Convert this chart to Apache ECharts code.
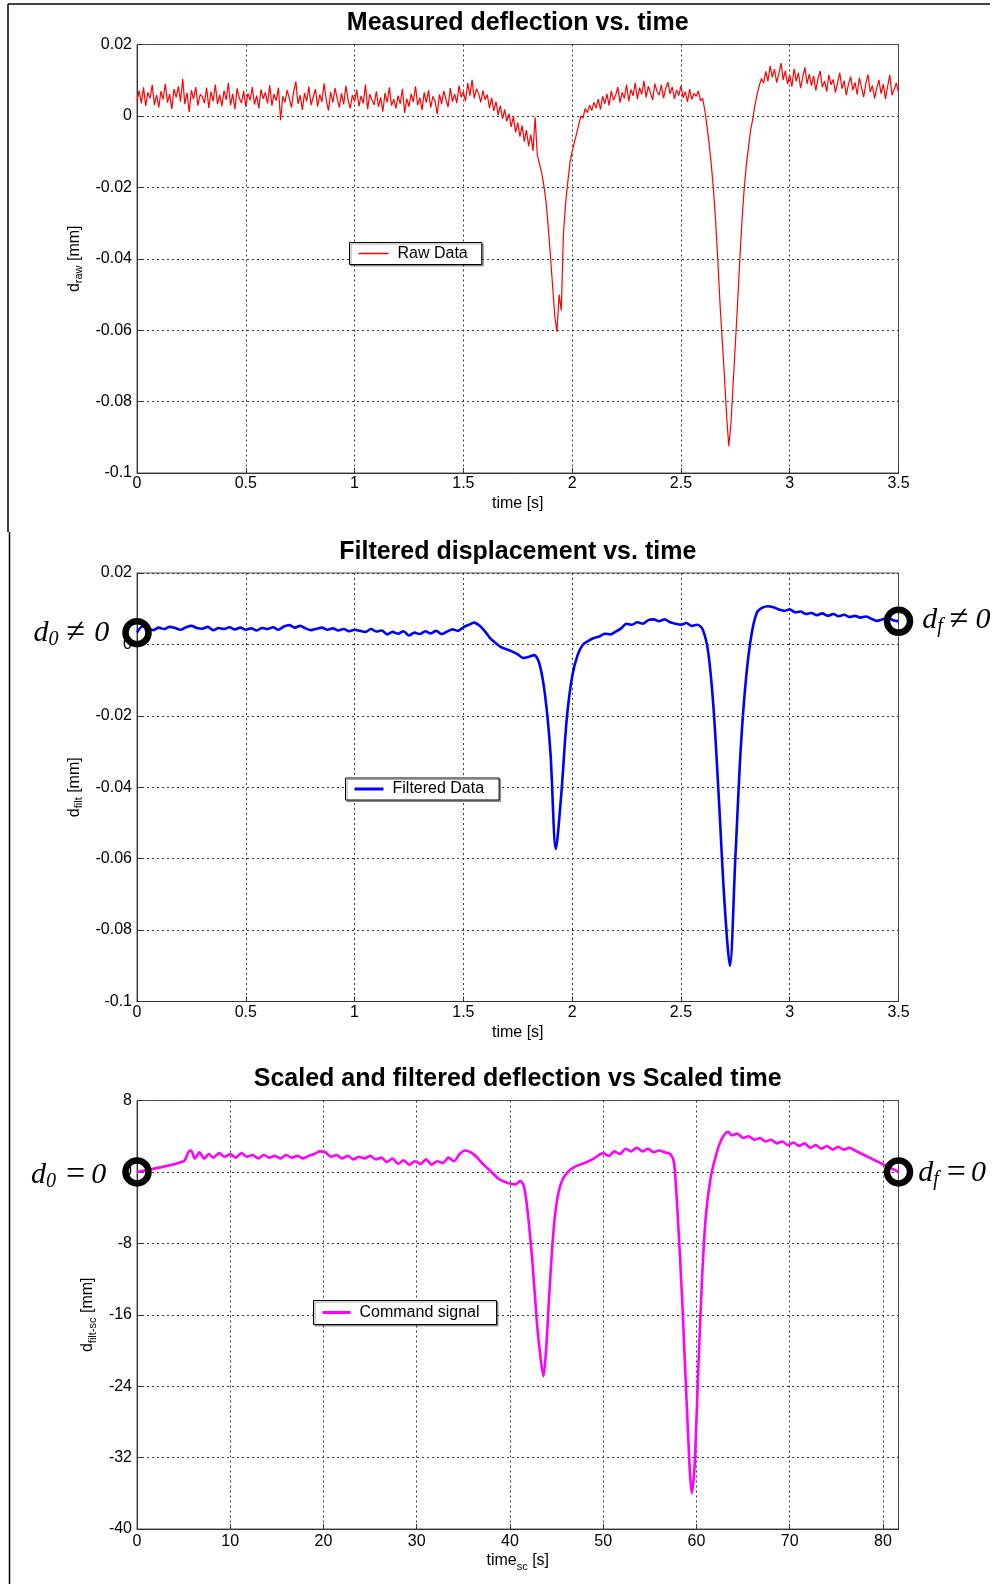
<!DOCTYPE html>
<html>
<head>
<meta charset="utf-8">
<title>Deflection signals</title>
<script src="https://cdn.jsdelivr.net/npm/echarts@6/dist/echarts.min.js"></script>
<style>
  html, body { margin: 0; padding: 0; background: #ffffff; }
  #chart { width: 998px; height: 1584px; }
</style>
</head>
<body>
<div id="chart"></div>
<script>
// ---------------- data ----------------
const panelTitles = [
  'Measured deflection vs. time',
  'Filtered displacement vs. time',
  'Scaled and filtered deflection vs Scaled time'
];
const seriesNames = ['Raw Data', 'Filtered Data', 'Command signal'];

// raw deflection [mm], sampled every rawStep seconds from t = 0
const rawStep = 0.01;
const rawValues = [
  0.0042, 0.0071, 0.0035, 0.0080, 0.0028, 0.0066, 0.0049, 0.0087, 0.0031, 0.0058,
  0.0024, 0.0069, 0.0046, 0.0090, 0.0037, 0.0061, 0.0019, 0.0075, 0.0052, 0.0083,
  0.0040, 0.0104, 0.0033, 0.0065, 0.0011, 0.0072, 0.0047, 0.0081, 0.0029, 0.0060,
  0.0054, 0.0036, 0.0079, 0.0022, 0.0068, 0.0041, 0.0088, 0.0033, 0.0059, 0.0027,
  0.0071, 0.0045, 0.0093, 0.0030, 0.0062, 0.0018, 0.0077, 0.0050, 0.0036, 0.0070,
  0.0026, 0.0063, 0.0044, 0.0081, 0.0032, 0.0057, 0.0021, 0.0074, 0.0048, 0.0066,
  0.0035, 0.0086, 0.0029, 0.0061, 0.0043, 0.0079, -0.0012, 0.0055, 0.0038, 0.0072,
  0.0049, 0.0023, 0.0068, 0.0096, 0.0034, 0.0058, 0.0017, 0.0064, 0.0041, 0.0082,
  0.0030, 0.0053, 0.0075, 0.0026, 0.0060, 0.0039, 0.0091, 0.0044, 0.0015, 0.0067,
  0.0037, 0.0078, 0.0050, 0.0024, 0.0063, 0.0032, 0.0084, 0.0046, 0.0021, 0.0058,
  0.0040, 0.0073, 0.0027, 0.0056, 0.0035, 0.0088, 0.0019, 0.0061, 0.0044, 0.0031,
  0.0069, 0.0025, 0.0052, 0.0012, 0.0064, 0.0038, 0.0080, 0.0029, 0.0047, 0.0021,
  0.0057, 0.0034, 0.0076, 0.0008, 0.0048, 0.0026, 0.0062, 0.0039, 0.0083, 0.0030,
  0.0051, 0.0016, 0.0066, 0.0037, 0.0072, 0.0023, 0.0055, 0.0042, 0.0005, 0.0060,
  0.0033, 0.0070, 0.0046, 0.0025, 0.0078, 0.0040, 0.0061, 0.0036, 0.0085, 0.0052,
  0.0068, 0.0041, 0.0092, 0.0057, 0.0101, 0.0049, 0.0076, 0.0063, 0.0038, 0.0071,
  0.0045, 0.0060, 0.0022, 0.0051, 0.0014, 0.0040, 0.0003, 0.0029, -0.0008, 0.0018,
  -0.0015, 0.0006, -0.0031, -0.0002, -0.0046, -0.0019, -0.0058, -0.0027, -0.0072, -0.0040,
  -0.0085, -0.0052, -0.0098, -0.0004, -0.0110, -0.0135, -0.0160, -0.0195, -0.0240, -0.0310,
  -0.0390, -0.0475, -0.0560, -0.0605, -0.0500, -0.0545, -0.0330, -0.0245, -0.0185, -0.0130,
  -0.0100, -0.0075, -0.0050, -0.0025, 0.0000, -0.0006, 0.0021, 0.0009, 0.0030, 0.0015,
  0.0038, 0.0022, 0.0047, 0.0018, 0.0055, 0.0034, 0.0062, 0.0029, 0.0070, 0.0044,
  0.0058, 0.0081, 0.0037, 0.0066, 0.0049, 0.0088, 0.0041, 0.0074, 0.0056, 0.0093,
  0.0047, 0.0079, 0.0060, 0.0098, 0.0052, 0.0083, 0.0065, 0.0045, 0.0090, 0.0069,
  0.0058, 0.0087, 0.0050, 0.0076, 0.0095, 0.0062, 0.0081, 0.0048, 0.0073, 0.0057,
  0.0084, 0.0051, 0.0068, 0.0039, 0.0075, 0.0046, 0.0063, 0.0055, 0.0070, 0.0042,
  0.0049, 0.0015, -0.0030, -0.0080, -0.0140, -0.0210, -0.0300, -0.0410, -0.0530, -0.0630,
  -0.0730, -0.0840, -0.0925, -0.0860, -0.0750, -0.0640, -0.0530, -0.0410, -0.0300, -0.0210,
  -0.0140, -0.0090, -0.0040, -0.0010, 0.0030, 0.0060, 0.0085, 0.0105, 0.0092, 0.0125,
  0.0097, 0.0140, 0.0108, 0.0131, 0.0093, 0.0118, 0.0148, 0.0101, 0.0126, 0.0089,
  0.0115, 0.0082, 0.0132, 0.0097, 0.0121, 0.0078, 0.0109, 0.0136, 0.0090, 0.0117,
  0.0085, 0.0112, 0.0071, 0.0104, 0.0126, 0.0080, 0.0098, 0.0068, 0.0115, 0.0087,
  0.0102, 0.0065, 0.0093, 0.0121, 0.0076, 0.0099, 0.0058, 0.0088, 0.0110, 0.0072,
  0.0094, 0.0060, 0.0107, 0.0079, 0.0053, 0.0091, 0.0116, 0.0067, 0.0085, 0.0049,
  0.0078, 0.0101, 0.0062, 0.0089, 0.0047, 0.0083, 0.0115, 0.0058, 0.0074, 0.0092,
  0.0066
];

// filtered displacement [mm], sampled every filtStep seconds from t = 0
const filtStep = 0.025;
const filtValues = [
  0.0033, 0.0050, 0.0046, 0.0040, 0.0047, 0.0043, 0.0049, 0.0046, 0.0041, 0.0048,
  0.0052, 0.0046, 0.0044, 0.0049, 0.0040, 0.0046, 0.0043, 0.0048, 0.0042, 0.0047,
  0.0041, 0.0045, 0.0039, 0.0046, 0.0043, 0.0048, 0.0041, 0.0050, 0.0054, 0.0047,
  0.0052, 0.0045, 0.0040, 0.0044, 0.0047, 0.0041, 0.0045, 0.0039, 0.0043, 0.0037,
  0.0041, 0.0038, 0.0035, 0.0043, 0.0036, 0.0039, 0.0028, 0.0035, 0.0030, 0.0037,
  0.0025, 0.0033, 0.0029, 0.0037, 0.0031, 0.0038, 0.0029, 0.0036, 0.0042, 0.0038,
  0.0048, 0.0055, 0.0061, 0.0052, 0.0036, 0.0016, 0.0003, -0.0008, -0.0014, -0.0020,
  -0.0028, -0.0038, -0.0035, -0.0030, -0.0055, -0.0140, -0.0300, -0.0573, -0.0420, -0.0210,
  -0.0090, -0.0030, 0.0000, 0.0010, 0.0018, 0.0022, 0.0030, 0.0028, 0.0036, 0.0045,
  0.0058, 0.0055, 0.0062, 0.0058, 0.0068, 0.0070, 0.0065, 0.0070, 0.0062, 0.0058,
  0.0055, 0.0060, 0.0052, 0.0055, 0.0042, -0.0020, -0.0180, -0.0440, -0.0720, -0.0900,
  -0.0600, -0.0290, -0.0090, 0.0030, 0.0090, 0.0103, 0.0107, 0.0104, 0.0098, 0.0094,
  0.0098, 0.0090, 0.0092, 0.0085, 0.0088, 0.0082, 0.0087, 0.0080, 0.0085, 0.0079,
  0.0083, 0.0077, 0.0080, 0.0075, 0.0078, 0.0072, 0.0066, 0.0070, 0.0074, 0.0068,
  0.0065
];

// scaled command signal: scaled time [s] and deflection [mm]
const scTime = [
  0, 5.0, 5.5, 5.8, 6.2, 6.7, 7.2, 7.7, 8.2, 8.8, 9.4, 10.0, 10.6, 11.2, 11.8, 12.4,
  13.0, 13.6, 14.2, 14.8, 15.4, 16.0, 16.6, 17.2, 17.8, 18.4, 19.0, 19.6, 20.2, 20.8,
  21.4, 22.0, 22.6, 23.2, 23.8, 24.4, 25.0, 25.6, 26.2, 26.8, 27.4, 28.0, 28.6, 29.2,
  29.8, 30.4, 31.0, 31.6, 32.2, 32.8, 33.4, 34.0, 34.6, 35.2, 35.8, 36.4, 37.0, 37.6,
  38.2, 38.8, 39.4, 40.0, 40.6, 41.1, 41.5, 41.9, 42.4, 42.9, 43.3, 43.6, 43.9, 44.2,
  44.6, 45.0, 45.5, 46.2, 47.0, 48.0, 49.0, 50.0, 50.6, 51.2, 51.8, 52.4, 53.0, 53.6,
  54.2, 54.8, 55.4, 56.0, 56.6, 57.2, 57.6, 58.0, 58.5, 59.0, 59.5, 59.8, 60.2, 60.6,
  61.0, 61.5, 62.0, 62.5, 63.0, 63.4, 63.8, 64.4, 65.0, 65.6, 66.2, 66.8, 67.4, 68.0,
  68.6, 69.2, 69.8, 70.4, 71.0, 71.6, 72.2, 72.8, 73.4, 74.0, 74.6, 75.2, 75.8, 76.4,
  77.0, 81.67
];
const scValues = [
  0, 1.2, 2.2, 2.4, 1.5, 2.2, 1.5, 2.0, 1.6, 2.1, 1.7, 2.0, 1.6, 2.1, 1.7, 1.9,
  1.5, 1.9, 1.6, 1.8, 1.5, 1.9, 1.6, 1.8, 1.5, 1.8, 2.0, 2.3, 2.2, 1.7,
  1.9, 1.5, 1.8, 1.4, 1.7, 1.5, 1.8, 1.4, 1.6, 1.1, 1.5, 0.9, 1.3, 0.8,
  1.2, 0.9, 1.4, 0.8, 1.2, 1.0, 1.6, 1.2, 2.0, 2.4, 2.2, 1.7, 1.0, 0.4,
  -0.2, -0.8, -1.1, -1.3, -1.4, -1.0, -1.6, -4.5, -10, -17, -21, -22.9, -19.5, -14,
  -7.5, -3.5, -1.2, 0.0, 0.6, 1.0, 1.5, 2.1, 1.8, 2.3, 2.0, 2.6, 2.3, 2.7,
  2.3, 2.6, 2.2, 2.4, 2.2, 2.0, 1.0, -5, -15, -27, -36, -33, -22, -12,
  -5, -0.8, 1.5, 3.2, 4.2, 4.5, 4.1, 4.3, 3.8, 4.0, 3.6, 3.8, 3.4, 3.6,
  3.2, 3.4, 3.0, 3.3, 2.9, 3.2, 2.7, 3.0, 2.6, 2.9, 2.5, 2.8, 2.5, 2.7,
  2.4, 0
];

// axis ranges: [min, max, interval]
const timeRange = [0, 3.5, 0.5];
const deflRange = [-0.1, 0.02, 0.02];
const scTimeRange = [0, 81.67, 10];
const scDeflRange = [-40, 8, 8];

// ---------------- build ----------------
const rawData = rawValues.map((v, i) => [i * rawStep, v]);
const filtData = filtValues.map((v, i) => [i * filtStep, v]);
const scData = scValues.map((v, i) => [scTime[i], v]);

const SANS = "'Liberation Sans', Arial, Helvetica, sans-serif";
const SERIF = "'Liberation Serif', 'Times New Roman', serif";

const PLOT_LEFT = 137;
const PLOT_WIDTH = 761.5;
const PLOT_HEIGHT = 428.5;
const PLOT_TOPS = [44.5, 573, 1100.5];
const TITLE_TOPS = [11, 539.5, 1067];

const gridLine = { show: true, lineStyle: { color: '#3a3a3a', width: 1, type: [2, 3] } };
const tickFont = { fontFamily: SANS, fontSize: 16, color: '#000' };

function fmtNum(v) { return String(+v.toFixed(4)); }

function subRich(mainLH, subLH) {
  return {
    m: { fontFamily: SANS, fontSize: 16, color: '#000', lineHeight: mainLH },
    s: { fontFamily: SANS, fontSize: 11, color: '#000', lineHeight: subLH, verticalAlign: 'bottom' }
  };
}

function xAxis(gridIndex, range, name, nameGap, labelMargin, fmt) {
  return {
    type: 'value', gridIndex, min: range[0], max: range[1], interval: range[2],
    name, nameLocation: 'middle', nameGap,
    nameTextStyle: { fontFamily: SANS, fontSize: 16, color: '#000', rich: subRich(22, 10) },
    axisLine: { show: true, onZero: false, lineStyle: { color: '#333', width: 1 } },
    axisTick: { show: true, inside: true, length: 5, lineStyle: { color: '#333' } },
    axisLabel: Object.assign({ margin: labelMargin, formatter: fmt || fmtNum }, tickFont),
    splitLine: gridLine
  };
}

function yAxis(gridIndex, range, name, nameGap) {
  return {
    type: 'value', gridIndex, min: range[0], max: range[1], interval: range[2],
    name, nameLocation: 'middle', nameGap, nameRotate: 90,
    nameTextStyle: { fontFamily: SANS, fontSize: 16, color: '#000', rich: subRich(20, 10) },
    axisLine: { show: true, onZero: false, lineStyle: { color: '#333', width: 1 } },
    axisTick: { show: true, inside: true, length: 5, lineStyle: { color: '#333' } },
    axisLabel: Object.assign({ margin: 5, formatter: fmtNum }, tickFont),
    splitLine: gridLine
  };
}

// italic math annotation: d_sub (op) 0
function mathLabel(sub, op, padL, padR) {
  return {
    show: true,
    formatter: '{d|d}{s|' + sub + '}{o|' + op + '}{z|0}',
    rich: {
      d: { fontFamily: SERIF, fontStyle: 'italic', fontSize: 30, lineHeight: 34, color: '#000' },
      s: { fontFamily: SERIF, fontStyle: 'italic', fontSize: 20, lineHeight: 18, verticalAlign: 'bottom', color: '#000' },
      o: { fontFamily: SERIF, fontSize: 34, lineHeight: 34, color: '#000', padding: [0, padR, 0, padL] },
      z: { fontFamily: SERIF, fontStyle: 'italic', fontSize: 30, lineHeight: 34, color: '#000' }
    }
  };
}

function ringMarks(data, labels) {
  return {
    symbol: 'circle', symbolSize: 23, silent: true, animation: false,
    itemStyle: { color: 'rgba(0,0,0,0)', borderColor: '#000', borderWidth: 6.5 },
    data: [
      { coord: data[0], label: labels[0] },
      { coord: data[data.length - 1], label: labels[1] }
    ]
  };
}

function legendBox(name, left, top, padding, itemWidth, itemHeight) {
  return {
    data: [name], left, top, padding, itemWidth, itemHeight, itemGap: 0,
    icon: 'rect', selectedMode: false,
    borderColor: '#000', borderWidth: 1, backgroundColor: '#fff',
    shadowColor: 'rgba(0,0,0,0.35)', shadowOffsetX: 1.5, shadowOffsetY: 1.5, shadowBlur: 0,
    textStyle: { fontFamily: SANS, fontSize: 16, color: '#000', lineHeight: 16, padding: [0, 0, 0, 4] }
  };
}

const scTimeFmt = v => (Math.abs(v / 10 - Math.round(v / 10)) < 1e-6 ? String(Math.round(v)) : '');

const option = {
  animation: false,
  backgroundColor: '#ffffff',
  title: panelTitles.map((t, i) => ({
    text: t, left: PLOT_LEFT + PLOT_WIDTH / 2, top: TITLE_TOPS[i], textAlign: 'center', padding: 0,
    textStyle: { fontFamily: SANS, fontSize: 25, fontWeight: 'bold', color: '#000' }
  })),
  grid: PLOT_TOPS.map(top => ({
    left: PLOT_LEFT, top, width: PLOT_WIDTH, height: PLOT_HEIGHT,
    show: true, borderColor: '#555', borderWidth: 1, backgroundColor: '#fff'
  })),
  xAxis: [
    xAxis(0, timeRange, 'time [s]', 23, 3),
    xAxis(1, timeRange, 'time [s]', 23, 3),
    xAxis(2, scTimeRange, '{m|time}{s|sc}{m| [s]}', 21, 5, scTimeFmt)
  ],
  yAxis: [
    yAxis(0, deflRange, '{m|d}{s|raw}{m| [mm]}', 49),
    yAxis(1, deflRange, '{m|d}{s|filt}{m| [mm]}', 49),
    yAxis(2, scDeflRange, '{m|d}{s|filt-sc}{m| [mm]}', 34)
  ],
  legend: [
    legendBox(seriesNames[0], 349.5, 242.5, [3, 14, 3, 9], 30, 1.5),
    legendBox(seriesNames[1], 345.5, 778, [3, 15, 3, 9], 29, 3),
    legendBox(seriesNames[2], 313.5, 1300.5, [4, 17, 4, 9], 28, 3)
  ],
  series: [
    {
      name: seriesNames[0], type: 'line', xAxisIndex: 0, yAxisIndex: 0,
      data: rawData, symbol: 'none', sampling: null, color: '#ff0000',
      lineStyle: { color: '#ff0000', width: 1.2 }
    },
    {
      name: seriesNames[1], type: 'line', xAxisIndex: 1, yAxisIndex: 1,
      data: filtData, symbol: 'none', smooth: 0.3, color: '#0000ff',
      lineStyle: { color: '#0000ff', width: 2.6 },
      markPoint: ringMarks(filtData, [
        Object.assign(mathLabel('0', '≠', 8, 9), { position: 'left', distance: 13, offset: [0, 0] }),
        Object.assign(mathLabel('f', '≠', 7, 7), { position: 'right', distance: 9, offset: [0, -1] })
      ])
    },
    {
      name: seriesNames[2], type: 'line', xAxisIndex: 2, yAxisIndex: 2,
      data: scData, symbol: 'none', smooth: 0.25, color: '#ff00ff',
      lineStyle: { color: '#ff00ff', width: 2.6 },
      markPoint: ringMarks(scData, [
        Object.assign(mathLabel('0', '=', 10, 6), { position: 'left', distance: 16, offset: [0, 3] }),
        Object.assign(mathLabel('f', '=', 8, 5), { position: 'right', distance: 5, offset: [0, 1] })
      ])
    }
  ],
  graphic: [
    { type: 'line', silent: true, shape: { x1: 8, y1: 4, x2: 990, y2: 4 }, style: { stroke: '#000', lineWidth: 1.5 } },
    { type: 'line', silent: true, shape: { x1: 8, y1: 4, x2: 8, y2: 532 }, style: { stroke: '#000', lineWidth: 1.5 } },
    { type: 'line', silent: true, shape: { x1: 9.5, y1: 532, x2: 9.5, y2: 1584 }, style: { stroke: '#000', lineWidth: 1.5 } }
  ]
};

const chart = echarts.init(document.getElementById('chart'), null, { renderer: 'canvas', width: 998, height: 1584 });
chart.setOption(option);
</script>
</body>
</html>
